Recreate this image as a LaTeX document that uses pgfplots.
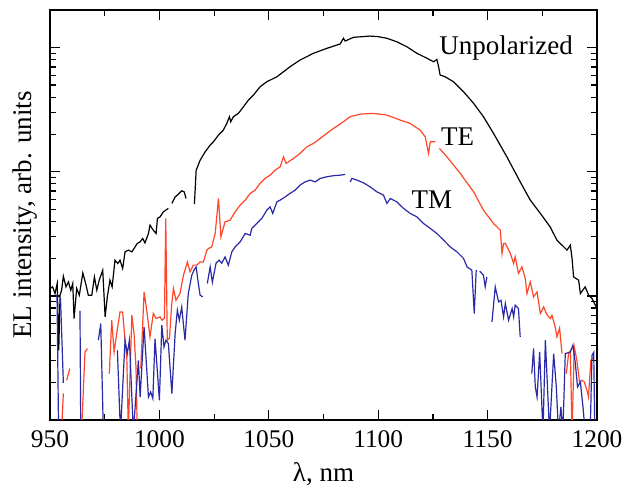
\documentclass[border=0pt]{standalone}
\usepackage{fontspec}
\setmainfont{Liberation Serif}
\setsansfont{Liberation Serif}
\newfontfamily\labfont{Liberation Serif}
\usepackage{pgfplots}
\usepackage{pgfplotstable}
\pgfplotsset{compat=1.18}
\definecolor{teRed}{RGB}{255,70,40}
\definecolor{tmBlue}{RGB}{42,42,168}

% columns: wavelength (nm), log10 of EL intensity (arb. units)
\pgfplotstableread{
x e
950.0 1.060
951.2 1.073
952.3 1.019
953.3 1.100
954.0 0.562
954.6 1.006
955.3 1.046
956.1 1.159
957.3 1.073
958.4 1.113
959.5 1.046
960.4 1.100
961.0 0.818
962.2 1.060
963.4 1.006
965.0 1.185
966.5 1.086
967.5 1.006
969.1 1.006
970.3 1.153
971.4 1.046
972.5 1.127
974.1 1.207
975.2 0.831
976.2 0.992
977.4 1.127
978.4 1.073
979.7 1.288
981.0 1.261
982.0 1.288
983.2 1.221
984.3 1.355
985.8 1.369
987.4 1.355
988.4 1.382
989.9 1.423
991.2 1.436
992.4 1.463
993.4 1.427
995.0 1.503
995.7 1.570
997.2 1.530
998.5 1.503
999.1 1.624
1000.3 1.637
1001.8 1.677
1003.4 1.697
1004.1 1.705
1004.9 nan
1005.7 1.745
1007.2 1.798
1008.7 1.820
1010.2 1.847
1011.3 1.839
1012.2 1.785
1014.0 nan
1016.0 1.740
1016.8 2.012
1018.6 2.093
1020.9 2.161
1023.2 2.215
1024.7 2.242
1027.0 2.296
1029.2 2.336
1030.8 2.390
1032.0 2.444
1032.6 2.403
1033.8 2.444
1036.1 2.471
1038.4 2.524
1040.7 2.578
1043.0 2.619
1046.0 2.685
1049.1 2.726
1053.7 2.766
1056.7 2.806
1059.7 2.847
1064.3 2.901
1070.4 2.955
1076.5 2.995
1082.6 3.030
1084.1 3.076
1084.9 3.054
1088.7 3.084
1096.3 3.094
1100.1 3.089
1104.0 3.076
1108.5 3.048
1113.1 3.008
1117.7 2.955
1122.3 2.915
1125.3 2.887
1126.8 2.906
1127.6 2.847
1128.3 2.780
1130.6 2.766
1134.4 2.726
1139.0 2.645
1143.6 2.552
1148.1 2.444
1152.7 2.310
1158.8 2.121
1164.9 1.919
1169.5 1.772
1174.1 1.665
1178.6 1.556
1181.7 1.449
1186.3 1.369
1187.8 1.409
1188.6 1.302
1189.3 1.153
1191.6 1.127
1192.4 1.019
1194.6 1.073
1196.2 1.006
1197.7 0.979
1200.0 0.898
}\unpol

\pgfplotstableread{
x e
955.0 -0.2
956.1 0.215
956.8 nan
957.6 0.320
959.1 0.415
962.0 nan
964.4 -0.1
966.0 0.548
967.1 0.576
970.0 nan
977.1 0.374
978.2 0.804
979.3 0.548
980.5 0.697
982.0 0.871
983.2 0.871
984.3 0.643
985.1 0.508
985.8 -0.1
987.4 0.844
988.4 0.699
989.3 0.427
989.9 -0.1
990.7 nan
991.5 0.415
993.0 1.032
994.2 0.885
995.7 0.669
997.2 0.858
998.5 0.818
1000.3 0.831
1001.2 0.804
1002.3 0.820
1002.9 1.624
1003.6 0.643
1004.6 0.659
1005.6 0.925
1006.4 1.060
1007.6 0.965
1009.4 1.019
1011.0 1.167
1012.8 1.274
1014.0 1.194
1015.5 1.248
1017.1 1.248
1018.6 1.274
1020.1 1.274
1021.7 1.369
1022.4 1.382
1023.9 1.395
1025.5 1.503
1027.0 1.786
1028.1 1.476
1030.0 1.597
1032.3 1.610
1034.6 1.677
1036.9 1.731
1039.2 1.772
1041.5 1.826
1043.7 1.852
1046.0 1.906
1048.3 1.947
1050.6 1.973
1052.9 2.014
1055.2 2.040
1056.7 2.121
1057.9 2.068
1061.3 2.108
1064.3 2.148
1067.4 2.202
1070.4 2.229
1073.5 2.269
1076.5 2.310
1079.6 2.350
1082.6 2.385
1087.2 2.444
1091.8 2.465
1097.8 2.471
1104.0 2.457
1110.1 2.417
1114.6 2.390
1119.2 2.336
1121.5 2.282
1123.0 2.148
1123.8 2.242
1126.1 2.242
1127.0 nan
1128.0 2.189
1131.4 2.121
1137.5 1.987
1143.6 1.839
1148.1 1.691
1152.7 1.584
1155.8 1.530
1156.6 1.342
1157.3 1.423
1158.1 1.423
1160.4 1.342
1161.9 1.261
1162.6 1.315
1164.1 1.181
1165.7 1.234
1167.2 1.140
1168.0 1.019
1169.5 1.113
1171.0 0.992
1172.6 1.032
1174.1 0.858
1175.6 0.911
1177.1 0.850
1178.6 0.818
1179.4 0.844
1180.9 0.750
1181.7 0.670
1182.9 0.740
1184.0 0.535
1185.0 nan
1186.0 0.374
1187.0 0.535
1187.8 0.556
1188.6 -0.1
1189.6 0.589
1190.8 0.481
1192.0 0.306
1193.1 0.320
1194.2 0.306
1195.4 0.240
1196.1 0.185
1197.2 0.481
1198.1 0.495
}\te

\pgfplotstableread{
x e
953.2 1.010
954.0 -0.2
954.4 nan
954.8 0.980
956.1 0.300
958.0 nan
963.7 0.880
964.1 -0.2
968.0 nan
972.1 0.643
973.2 0.777
974.4 -0.1
976.0 nan
980.8 0.562
982.2 -0.1
984.3 0.643
985.3 0.535
986.3 0.643
988.1 -0.1
990.4 0.481
991.2 0.185
993.0 0.750
995.0 0.185
996.0 0.226
997.0 0.173
998.0 0.656
1000.0 0.159
1001.1 0.764
1002.1 0.589
1003.0 0.643
1004.1 0.616
1005.7 0.213
1007.2 0.697
1008.2 0.885
1009.1 0.804
1010.2 0.911
1011.7 0.643
1013.2 1.019
1014.8 1.167
1015.8 1.207
1016.8 1.234
1017.8 1.100
1018.6 1.006
1019.8 0.992
1020.8 nan
1021.9 1.100
1023.2 1.234
1024.2 1.110
1025.9 1.264
1027.3 1.288
1028.5 1.264
1030.0 1.314
1031.5 1.248
1033.1 1.355
1034.6 1.395
1036.9 1.435
1039.2 1.503
1041.5 1.489
1042.2 1.544
1044.5 1.584
1046.8 1.624
1049.1 1.691
1050.6 1.718
1051.8 1.665
1053.7 1.758
1055.2 1.772
1057.5 1.798
1059.7 1.826
1062.0 1.852
1064.3 1.893
1066.6 1.919
1068.9 1.933
1071.2 1.919
1073.5 1.947
1076.5 1.960
1079.6 1.969
1082.6 1.973
1084.9 1.979
1086.0 nan
1087.2 1.919
1088.0 1.947
1090.3 1.933
1093.3 1.911
1096.3 1.879
1099.4 1.839
1102.4 1.812
1104.0 1.745
1105.5 1.785
1108.5 1.758
1111.6 1.705
1114.6 1.665
1117.7 1.637
1120.7 1.584
1123.8 1.544
1126.8 1.503
1129.9 1.449
1132.9 1.395
1136.0 1.355
1139.0 1.302
1140.6 1.234
1142.8 1.207
1143.9 0.858
1144.8 1.207
1145.6 nan
1146.4 1.199
1148.1 1.167
1148.9 1.073
1149.7 1.153
1150.8 nan
1152.0 0.790
1153.5 1.073
1155.0 0.952
1156.1 0.965
1157.3 0.831
1158.1 0.939
1159.6 0.804
1161.2 0.898
1161.9 0.831
1162.6 0.925
1164.1 0.898
1164.9 0.669
1167.0 nan
1170.2 0.374
1171.0 0.576
1171.8 0.266
1172.6 0.185
1173.8 0.548
1175.3 -0.1
1176.4 0.643
1178.3 -0.1
1180.2 0.535
1181.4 0.266
1182.4 -0.1
1183.5 0.105
1184.4 -0.1
1185.5 0.535
1187.8 0.548
1189.0 0.602
1190.1 0.455
1191.1 0.266
1192.4 0.306
1193.6 0.105
1194.6 -0.1
1196.9 -0.1
1197.7 0.522
1198.5 0.546
1199.0 -0.1
}\tm

\begin{document}
\begin{tikzpicture}
\begin{axis}[
  at={(0,0)}, anchor=south west,
  scale only axis,
  width=273.5pt, height=205pt,
  xmin=950, xmax=1200,
  ymode=log, ymin=1, ymax=2014,
  xtick={950,1000,...,1200},
  xticklabel={\labfont\fontsize{12.7}{15}\selectfont\pgfmathprintnumber[assume math mode=true, 1000 sep={}, fixed, precision=0]{\tick}},
  minor x tick num=1,
  ytick={1,10,100,1000},
  minor ytick={2,3,4,5,6,7,8,9,20,30,40,50,60,70,80,90,200,300,400,500,600,700,800,900,2000},
  yticklabels={},
  tick align=inside,
  major tick length=5pt, minor tick length=3.2pt,
  axis line style={line width=0.9pt},
  every tick/.style={black, line width=0.6pt},
  xticklabel style={yshift=-2pt},
  xlabel={\labfont λ, nm},
  ylabel={\labfont EL intensity, arb. units},
  label style={font=\fontsize{13.5}{16}\selectfont},
  xlabel style={at={(axis description cs:0.5,0)}, anchor=base, yshift=-30.7pt},
  ylabel style={at={(axis description cs:-0.0457,0.5)}, anchor=center},
  unbounded coords=jump,
]
\addplot[black, line width=0.6pt, mark=none] table[x=x, y expr=10^(\thisrow{e})] {\unpol};
\addplot[teRed, line width=0.6pt, mark=none] table[x=x, y expr=10^(\thisrow{e})] {\te};
\addplot[tmBlue, line width=0.6pt, mark=none] table[x=x, y expr=10^(\thisrow{e})] {\tm};
\node[font=\labfont\fontsize{13.5}{16}\selectfont] at (axis cs:1158.5,995) {Unpolarized};
\node[font=\labfont\fontsize{13.5}{16}\selectfont] at (axis cs:1136.3,190.5) {TE};
\node[font=\labfont\fontsize{13.5}{16}\selectfont] at (axis cs:1124.5,59.2) {TM};
\end{axis}
\pgfresetboundingbox
\useasboundingbox (-25pt,-32.35pt) rectangle (293.5pt,210pt);
\end{tikzpicture}
\end{document}
